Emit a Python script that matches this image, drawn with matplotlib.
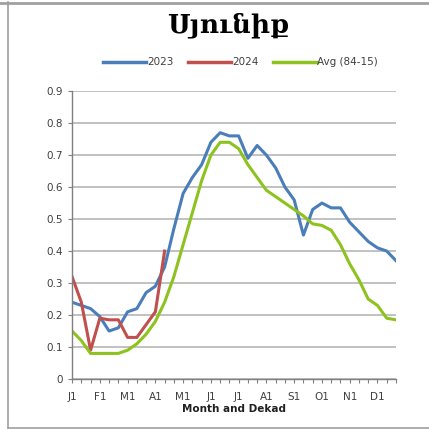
import matplotlib
matplotlib.use("Agg")
import matplotlib.pyplot as plt
from matplotlib.lines import Line2D

# dekad index 0..35 (3 per month)
month_labels = ["J1", "F1", "M1", "A1", "M1", "J1", "J1", "A1", "S1", "O1", "N1", "D1"]

y2023 = [0.24, 0.23, 0.22, 0.195, 0.15, 0.16, 0.21, 0.22, 0.27, 0.29, 0.35, 0.47,
         0.58, 0.63, 0.67, 0.74, 0.77, 0.76, 0.76, 0.69, 0.73, 0.70, 0.66, 0.60,
         0.56, 0.45, 0.53, 0.55, 0.535, 0.535, 0.49, 0.46, 0.43, 0.41, 0.40, 0.37]
y2024 = [0.32, 0.24, 0.09, 0.19, 0.185, 0.185, 0.13, 0.13, 0.17, 0.21, 0.40]
yavg = [0.15, 0.12, 0.08, 0.08, 0.08, 0.08, 0.09, 0.11, 0.14, 0.18, 0.24, 0.32,
        0.42, 0.52, 0.62, 0.70, 0.74, 0.74, 0.72, 0.67, 0.63, 0.59, 0.57, 0.55,
        0.53, 0.51, 0.485, 0.48, 0.465, 0.42, 0.36, 0.31, 0.25, 0.23, 0.19, 0.185]

C_BLUE, C_RED, C_GREEN = "#4a7ebb", "#c0504d", "#8dc21f"

fig = plt.figure(figsize=(4.29, 4.30), dpi=100)
ax = fig.add_axes([0.168, 0.1186, 0.755, 0.6695])

ax.plot(range(len(y2023)), y2023, color=C_BLUE, lw=2.2, solid_joinstyle="round")
ax.plot(range(len(y2024)), y2024, color=C_RED, lw=2.2, solid_joinstyle="round")
ax.plot(range(len(yavg)), yavg, color=C_GREEN, lw=2.2, solid_joinstyle="round")

ax.set_xlim(0, 35)
ax.set_ylim(0, 0.9)
ax.set_yticks([i / 10 for i in range(10)])
ax.set_yticklabels(["0"] + [f"{i / 10:.1f}" for i in range(1, 10)])
ax.set_xticks(range(0, 36, 3))
ax.set_xticklabels(month_labels)
ax.set_xticks(range(36), minor=True)
ax.tick_params(axis="both", which="both", colors="#808080", labelcolor="#404040",
               labelsize=7.5, length=3, width=0.8)
ax.tick_params(axis="x", which="major", pad=6)
ax.grid(axis="y", color="#b0b0b0", lw=1.1)
ax.set_axisbelow(True)
for s in ("top", "right"):
    ax.spines[s].set_visible(False)
for s in ("left", "bottom"):
    ax.spines[s].set_color("#808080")
    ax.spines[s].set_linewidth(1.0)
ax.set_xlabel("Month and Dekad", fontsize=7.5, fontweight="bold", color="#202020", labelpad=2)

fig.text(0.533, 0.942, "Սյունիք", ha="center", va="center", fontsize=19, fontweight="bold",
         family=["DejaVu Serif", "DejaVu Sans"], color="black")

handles = [Line2D([], [], color=C_BLUE, lw=2.5), Line2D([], [], color=C_RED, lw=2.5),
           Line2D([], [], color=C_GREEN, lw=2.5)]
fig.legend(handles, ["2023", "2024", "Avg (84-15)"], loc="center", bbox_to_anchor=(0.56, 0.855),
           ncol=3, frameon=False, fontsize=7.5, handlelength=4.2, handletextpad=0.05,
           columnspacing=1.4, labelcolor="#404040")

# outer frame
fig.add_artist(Line2D([0.019, 0.019], [0.005, 0.995], color="#a0a0a0", lw=1.2))
fig.add_artist(Line2D([0.019, 1.0], [0.005, 0.005], color="#a0a0a0", lw=1.2))
fig.add_artist(Line2D([0.0, 1.0], [0.993, 0.993], color="#a0a0a0", lw=2.0))

fig.savefig("out.png", dpi=100)
